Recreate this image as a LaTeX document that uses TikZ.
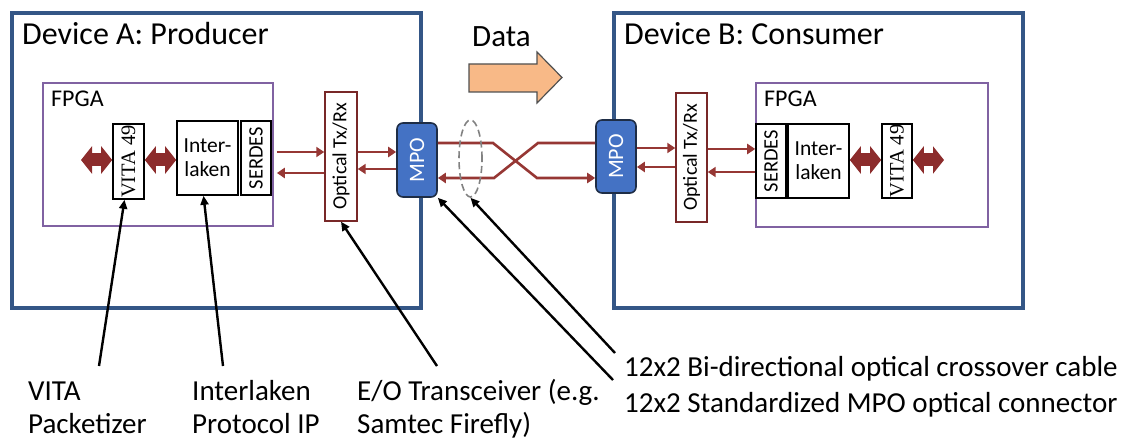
\documentclass[tikz,border=0pt]{standalone}
\usepackage{fontspec}
\usepackage{graphicx}
\setmainfont{Carlito}
\newfontfamily\vitafont{Liberation Serif}
\usetikzlibrary{arrows.meta,shapes.geometric}
\definecolor{devblue}{RGB}{52,86,134}
\definecolor{fpgapurple}{RGB}{128,98,162}
\definecolor{optred}{RGB}{120,40,40}
\definecolor{linered}{RGB}{150,55,52}
\definecolor{fatred}{RGB}{140,44,44}
\definecolor{mpoblue}{RGB}{68,114,196}
\definecolor{mpoedge}{RGB}{30,45,70}
\definecolor{dataorange}{RGB}{248,185,135}
\definecolor{datagray}{RGB}{80,80,80}
\definecolor{cablegray}{RGB}{130,130,130}
\begin{document}
\begin{tikzpicture}[x=1pt,y=-1pt,
  device/.style={draw=devblue, line width=4pt, inner sep=0},
  fpga/.style={draw=fpgapurple, line width=2.2pt, inner sep=0},
  blk/.style={draw=black, line width=1.6pt, inner sep=0, fill=white},
  optbox/.style={draw=optred, line width=1.4pt, inner sep=0, fill=white, font=\fontsize{20}{22}\selectfont},
  mpo/.style={draw=mpoedge, fill=mpoblue, line width=1.6pt, rounded corners=6pt, inner sep=0, text=white, font=\fontsize{22}{24}\selectfont},
  rline/.style={draw=linered, line width=2.6pt, -{Triangle[length=8pt,width=10pt]}},
  fat/.style={draw=fatred, line width=13pt, {Triangle[length=11pt,width=27pt]}-{Triangle[length=11pt,width=27pt]}},
  pointer/.style={draw=black, line width=2.4pt, -{Triangle[length=9pt,width=8pt]}},
  lbl/.style={inner sep=0, anchor=base west, font=\fontsize{29}{33}\selectfont},
  title/.style={lbl, font=\fontsize{32}{36}\selectfont},
  vitabox/.style={blk, font=\vitafont\fontsize{20.5}{22}\selectfont},
  serdesbox/.style={blk, font=\fontsize{20.5}{22}\selectfont},
  ilbox/.style={blk, align=center, font=\fontsize{21.5}{24}\selectfont},
]
\useasboundingbox (0,0) rectangle (1129,438);

% devices
\node[device, minimum width=409pt, minimum height=295pt] (devA) at (216.5,160.5) {};
\node[device, minimum width=409pt, minimum height=295pt] (devB) at (818.5,160.5) {};
\node[title] (titleA) at (22,45) {Device A: Producer};
\node[title] (titleB) at (624,45) {Device B: Consumer};

% FPGA boxes
\node[fpga, minimum width=230pt, minimum height=143pt] (fpgaA) at (158,154.5) {};
\node[fpga, minimum width=232pt, minimum height=144pt] (fpgaB) at (872,155) {};
\node[lbl, font=\fontsize{24}{26}\selectfont] (fpgaAlbl) at (51,107) {FPGA};
\node[lbl, font=\fontsize{24}{26}\selectfont] (fpgaBlbl) at (764,107) {FPGA};

% device A blocks
\node[vitabox, minimum width=31pt, minimum height=75pt] (vitaA) at (128.5,161.5) {\rotatebox{90}{VITA 49}};
\node[ilbox, minimum width=61pt, minimum height=74pt] (ilA) at (207.5,158) {Inter-\\laken};
\node[serdesbox, minimum width=30pt, minimum height=74pt] (serA) at (256,158) {\rotatebox{90}{SERDES}};
\node[optbox, minimum width=32pt, minimum height=129pt] (optA) at (341,156.5) {\rotatebox{90}{Optical Tx/Rx}};
\node[mpo, minimum width=40pt, minimum height=74pt] (mpoA) at (417,160) {\rotatebox{90}{MPO}};

% device B blocks
\node[mpo, minimum width=40pt, minimum height=73pt] (mpoB) at (616,156.5) {\rotatebox{90}{MPO}};
\node[optbox, minimum width=31pt, minimum height=129pt] (optB) at (691.5,157.5) {\rotatebox{90}{Optical Tx/Rx}};
\node[serdesbox, minimum width=30pt, minimum height=74pt] (serB) at (771,161) {\rotatebox{90}{SERDES}};
\node[ilbox, minimum width=61pt, minimum height=74pt] (ilB) at (818.5,161) {Inter-\\laken};
\node[vitabox, minimum width=30pt, minimum height=74pt] (vitaB) at (897,161) {\rotatebox{90}{VITA 49}};

% fat double arrows
\coordinate (fatAL) at (81,160);
\coordinate (fatBR) at (944,160);
\draw[fat] (fatAL) -- (vitaA.west |- fatAL);
\draw[fat] (vitaA.east |- fatAL) -- (ilA.west |- fatAL);
\draw[fat] (ilB.east |- fatBR) -- (vitaB.west |- fatBR);
\draw[fat] (vitaB.east |- fatBR) -- (fatBR);

% red signal lines, device A
\draw[rline] ([xshift=5pt]serA.east |- 0,152) -- (optA.west |- 0,152);
\draw[rline] (optA.west |- 0,173) -- ([xshift=5pt]serA.east |- 0,173);
\draw[rline] (optA.east |- 0,152) -- (mpoA.west |- 0,152);
\draw[rline] (mpoA.west |- 0,169) -- (optA.east |- 0,169);

% crossover cable
\draw[rline] (mpoA.east |- 0,143) -- (493,143) -- (537,178) -- (mpoB.west |- 0,178);
\draw[rline] (mpoB.west |- 0,143) -- (538,143) -- (494,178) -- (mpoA.east |- 0,178);
\node[draw=cablegray, dashed, dash pattern=on 7pt off 4pt, line width=1.6pt, ellipse, inner sep=0, minimum width=23pt, minimum height=77pt] (cable) at (470.5,158.5) {};

% red signal lines, device B
\draw[rline] (mpoB.east |- 0,148) -- (optB.west |- 0,148);
\draw[rline] (optB.west |- 0,167) -- (mpoB.east |- 0,167);
\draw[rline] (optB.east |- 0,149) -- (serB.west |- 0,149);
\draw[rline] (serB.west |- 0,172) -- (optB.east |- 0,172);

% data arrow
\draw[fill=dataorange, draw=datagray, line width=1.2pt] (469,64) -- (537,64) -- (537,52) -- (562,77.5) -- (537,103) -- (537,92) -- (469,92) -- cycle;
\node[lbl, font=\fontsize{31}{34}\selectfont] (data) at (472,47) {Data};

% bottom labels
\node[lbl] (lVITA) at (28,400) {\begin{tabular}[t]{@{}l@{}}VITA\\Packetizer\end{tabular}};
\node[lbl] (lIL) at (192,400) {\begin{tabular}[t]{@{}l@{}}Interlaken\\Protocol IP\end{tabular}};
\node[lbl] (lEO) at (357,400) {\begin{tabular}[t]{@{}l@{}}E/O Transceiver (e.g.\\Samtec Firefly)\end{tabular}};
\node[lbl] (lCable) at (624,376) {12x2 Bi-directional optical crossover cable};
\node[lbl] (lMPO) at (624,412) {12x2 Standardized MPO optical connector};

% pointers
\coordinate (pVITA) at (99,366);
\coordinate (pIL) at (223,366);
\coordinate (pEO) at (437,366);
\coordinate (pMPO) at (613,380);
\coordinate (pCable) at (615,353);
\draw[pointer] (pVITA) -- ([xshift=-4pt]vitaA.south);
\draw[pointer] (pIL) -- ([xshift=-4pt]ilA.south);
\draw[pointer] (pEO) -- (optA.south);
\draw[pointer] (pMPO) -- (mpoA.south east);
\draw[pointer] (pCable) -- (cable.south);
\end{tikzpicture}
\end{document}
